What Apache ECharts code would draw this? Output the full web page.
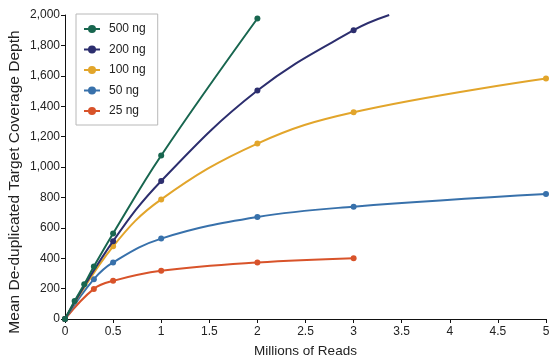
<!DOCTYPE html>
<html><head><meta charset="utf-8">
<script src="https://cdn.jsdelivr.net/npm/echarts@6/dist/echarts.min.js"></script>
<style>html,body{margin:0;padding:0;background:#fff}#c{width:560px;height:363px}</style>
</head><body><div id="c"></div>
<script>
const seriesNames = ['500 ng', '200 ng', '100 ng', '50 ng', '25 ng'];
const seriesColors = ['#18664f', '#2c2e6e', '#e2a52b', '#3871ab', '#d8532a'];
// [millions of reads, depth]
const ng500 = [[0, 0], [0.1, 118], [0.2, 228], [0.3, 345], [0.5, 563], [1, 1076], [2, 1977]];
const ng200 = [[0, 0], [0.5, 512], [1, 908], [2, 1503], [3, 1900]];
const ng200End = [3.37, 2000]; // curve continues past last measured point
const ng100 = [[0, 0], [0.5, 478], [1, 787], [2, 1154], [3, 1360], [5, 1582]];
const ng50 = [[0, 0], [0.3, 262], [0.5, 372], [1, 529], [2, 671], [3, 739], [5, 822]];
const ng25 = [[0, 0], [0.3, 198], [0.5, 251], [1, 317], [2, 372], [3, 400]];
const xTicks = [0, 0.5, 1, 1.5, 2, 2.5, 3, 3.5, 4, 4.5, 5];
const xTitle = 'Millions of Reads';
const yTitle = 'Mean De-duplicated Target Coverage Depth';

const datasets = [ng500, ng200.concat([{value: ng200End, symbol: 'none'}]), ng100, ng50, ng25];
const font = 'Liberation Sans, Arial, sans-serif';
const chart = echarts.init(document.getElementById('c'));
chart.setOption({
  animation: false,
  textStyle: {fontFamily: font},
  grid: {left: 65, right: 14, top: 15, bottom: 43},
  legend: {
    orient: 'vertical', left: 76, top: 14,
    data: seriesNames,
    borderColor: '#b8b8b8', borderWidth: 1, padding: [9, 12, 8, 7],
    itemWidth: 16, itemHeight: 10, itemGap: 8.5,
    textStyle: {fontSize: 12, color: '#222', fontFamily: font, padding: [0, 0, 0, 4]}
  },
  xAxis: {
    type: 'value', min: 0, max: 5, interval: 0.5,
    name: xTitle, nameLocation: 'middle', nameGap: 25,
    nameTextStyle: {fontSize: 13.5, color: '#222'},
    axisLine: {lineStyle: {color: '#111', width: 1}},
    axisTick: {show: true, length: 4, lineStyle: {color: '#111'}},
    axisLabel: {fontSize: 12, color: '#222', margin: 7,
      formatter: v => (xTicks.indexOf(v) >= 0 ? String(v) : '')},
    splitLine: {show: false}
  },
  yAxis: {
    type: 'value', min: 0, max: 2000, interval: 200,
    axisLine: {show: true, lineStyle: {color: '#111', width: 1}},
    axisTick: {show: true, length: 4, lineStyle: {color: '#111'}},
    axisLabel: {fontSize: 12, color: '#222', margin: 5, formatter: v => v.toLocaleString('en-US')},
    splitLine: {show: false}
  },
  graphic: [{
    type: 'text', x: 15, y: 182, rotation: Math.PI / 2,
    style: {text: yTitle, fontSize: 15.5, fontFamily: font, fill: '#222',
      align: 'center', verticalAlign: 'middle'}
  }],
  series: seriesNames.map((n, i) => ({
    name: n, type: 'line', data: datasets[i], smooth: 0.4,
    symbol: 'circle', symbolSize: 6, color: seriesColors[i],
    lineStyle: {width: 2}, z: 10 - i
  }))
});
</script></body></html>
